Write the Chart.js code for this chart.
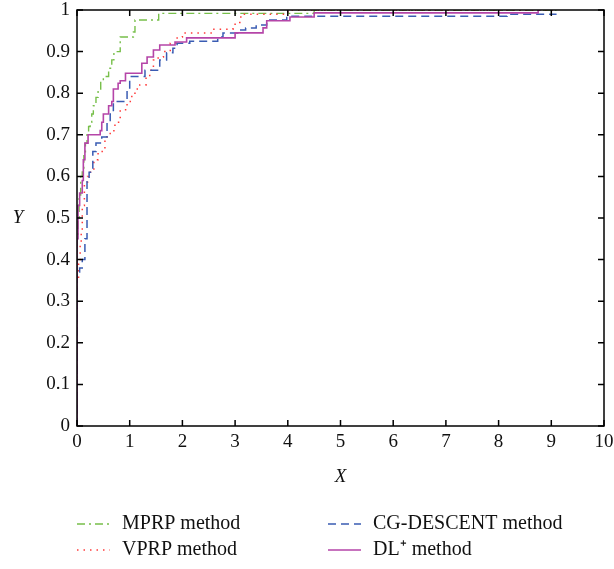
<!DOCTYPE html>
<html>
<head>
<meta charset="utf-8">
<script src="https://cdn.jsdelivr.net/npm/chart.js@4/dist/chart.umd.min.js"></script>
<style>
  html, body { margin: 0; padding: 0; background: #fff; }
  canvas { display: block; }
</style>
</head>
<body>
<canvas id="chart" width="614" height="569"></canvas>
<script>
// performance profile data
const mprpX = [0, 0, 0.02, 0.04, 0.07, 0.1, 0.13, 0.16, 0.19, 0.22, 0.25, 0.28, 0.31, 0.36, 0.4, 0.45, 0.5, 0.6, 0.66, 0.7, 0.82, 1.07, 1.1, 1.55, 4.5, 9.1];
const mprpY = [0, 0.45, 0.5, 0.55, 0.6, 0.62, 0.65, 0.68, 0.7, 0.72, 0.73, 0.75, 0.77, 0.79, 0.81, 0.83, 0.84, 0.86, 0.88, 0.9, 0.935, 0.947, 0.976, 0.992, 1.0, 1.0];

const vprpX = [0, 0, 0.03, 0.06, 0.08, 0.1, 0.14, 0.2, 0.25, 0.32, 0.4, 0.53, 0.63, 0.72, 0.82, 0.95, 1.04, 1.12, 1.19, 1.31, 1.38, 1.45, 1.54, 1.64, 1.77, 1.9, 2.0, 2.58, 2.96, 3.0, 3.09, 3.15, 4.0, 9.1];
const vprpY = [0, 0.35, 0.4, 0.44, 0.47, 0.53, 0.58, 0.6, 0.61, 0.64, 0.66, 0.695, 0.71, 0.73, 0.76, 0.78, 0.8, 0.81, 0.82, 0.84, 0.855, 0.88, 0.887, 0.9, 0.92, 0.935, 0.945, 0.954, 0.957, 0.97, 0.983, 0.99, 1.0, 1.0];

const cgX = [0, 0, 0.05, 0.1, 0.15, 0.19, 0.23, 0.3, 0.36, 0.47, 0.57, 0.63, 0.69, 0.95, 1.0, 1.29, 1.57, 1.7, 1.82, 1.9, 2.14, 2.67, 2.77, 3.05, 3.2, 3.4, 3.6, 3.98, 8.16, 9.1];
const cgY = [0, 0.37, 0.38, 0.4, 0.45, 0.59, 0.61, 0.66, 0.68, 0.695, 0.73, 0.75, 0.78, 0.81, 0.84, 0.855, 0.88, 0.897, 0.908, 0.92, 0.925, 0.935, 0.945, 0.952, 0.957, 0.964, 0.976, 0.985, 0.99, 0.99];

const dlX = [0, 0, 0.02, 0.05, 0.1, 0.12, 0.15, 0.21, 0.44, 0.47, 0.5, 0.6, 0.66, 0.69, 0.78, 0.82, 0.92, 1.23, 1.33, 1.45, 1.57, 1.86, 2.08, 3.0, 3.53, 3.6, 4.04, 4.5, 8.75, 8.8];
const dlY = [0, 0.45, 0.53, 0.56, 0.59, 0.64, 0.68, 0.7, 0.71, 0.73, 0.75, 0.77, 0.78, 0.81, 0.824, 0.83, 0.848, 0.872, 0.887, 0.904, 0.916, 0.923, 0.933, 0.945, 0.957, 0.974, 0.983, 0.993, 1.0, 1.0];

const xTicks = [0, 1, 2, 3, 4, 5, 6, 7, 8, 9, 10];
const yTicks = [0, 0.1, 0.2, 0.3, 0.4, 0.5, 0.6, 0.7, 0.8, 0.9, 1];

const FONT = 'Liberation Serif';

function toPoints(xs, ys) {
    return xs.map((x, i) => ({ x: x, y: ys[i] }));
}

const series = [
    { label: 'MPRP method', xs: mprpX, ys: mprpY, color: '#77bf4a', dash: [8, 4, 2, 4], width: 1.4, slot: [0, 0] },
    { label: 'VPRP method', xs: vprpX, ys: vprpY, color: '#ff3b3b', dash: [1.5, 5], width: 1.5, slot: [0, 1] },
    { label: 'CG-DESCENT method', xs: cgX, ys: cgY, color: '#3a5cb3', dash: [8, 5], width: 1.5, slot: [1, 0] },
    { label: 'DL\u207A method', xs: dlX, ys: dlY, color: '#b545a8', dash: [], width: 1.6, slot: [1, 1] }
];

// inward tick marks on all four sides, the box, and the upright Y label
const framePlugin = {
    id: 'frame',
    afterDatasetsDraw(chart) {
        const ctx = chart.ctx;
        const { left, right, top, bottom } = chart.chartArea;
        const xs = chart.scales.x, ys = chart.scales.y;
        const len = 6;
        ctx.save();
        ctx.strokeStyle = '#000';
        ctx.lineWidth = 1.5;
        ctx.beginPath();
        xTicks.forEach(v => {
            const px = xs.getPixelForValue(v);
            ctx.moveTo(px, bottom); ctx.lineTo(px, bottom - len);
            ctx.moveTo(px, top); ctx.lineTo(px, top + len);
        });
        yTicks.forEach(v => {
            const py = ys.getPixelForValue(v);
            ctx.moveTo(left, py); ctx.lineTo(left + len, py);
            ctx.moveTo(right, py); ctx.lineTo(right - len, py);
        });
        ctx.stroke();
        ctx.strokeRect(left, top, right - left, bottom - top);

        ctx.fillStyle = '#111';
        ctx.font = 'italic 19px "' + FONT + '"';
        ctx.textAlign = 'center';
        ctx.textBaseline = 'middle';
        ctx.fillText('Y', 18, (top + bottom) / 2);
        ctx.restore();
    }
};

// two-column legend under the axis
const legendPlugin = {
    id: 'twoColLegend',
    afterDraw(chart) {
        const ctx = chart.ctx;
        const colX = [77, 328];
        const rowY = [524, 550];
        ctx.save();
        ctx.font = '20px "' + FONT + '"';
        ctx.textBaseline = 'middle';
        ctx.fillStyle = '#111';
        chart.data.datasets.forEach((ds, i) => {
            const s = series[i];
            const x = colX[s.slot[0]], y = rowY[s.slot[1]];
            ctx.strokeStyle = ds.borderColor;
            ctx.lineWidth = ds.borderWidth;
            ctx.setLineDash(ds.borderDash);
            ctx.beginPath();
            ctx.moveTo(x, y); ctx.lineTo(x + 33, y);
            ctx.stroke();
            ctx.setLineDash([]);
            ctx.fillText(ds.label, x + 45, y);
        });
        ctx.restore();
    }
};

const ctx = document.getElementById('chart').getContext('2d');
new Chart(ctx, {
    type: 'line',
    data: {
        datasets: series.map((s, i) => ({
            label: s.label,
            data: toPoints(s.xs, s.ys),
            borderColor: s.color,
            borderDash: s.dash,
            borderWidth: s.width,
            stepped: 'before',
            pointRadius: 0,
            fill: false,
            order: 4 - i
        }))
    },
    options: {
        responsive: false,
        animation: false,
        layout: { padding: { left: 0, right: 10, top: 10, bottom: 73 } },
        scales: {
            x: {
                type: 'linear',
                min: 0, max: 10,
                afterBuildTicks: s => { s.ticks = xTicks.map(v => ({ value: v })); },
                ticks: { padding: 5, color: '#111', font: { family: FONT, size: 19 } },
                grid: { display: false, drawTicks: false },
                border: { display: false },
                title: { display: true, text: 'X', color: '#111', font: { family: FONT, size: 19, style: 'italic' }, padding: { top: 0, bottom: 8 } },
                afterFit: s => { s.height = 70; s.paddingLeft = 0; s.paddingRight = 0; }
            },
            y: {
                type: 'linear',
                min: 0, max: 1,
                afterBuildTicks: s => { s.ticks = yTicks.map(v => ({ value: v })); },
                ticks: { padding: 7, color: '#111', font: { family: FONT, size: 19 }, callback: v => String(Number(v.toFixed(1))) },
                grid: { display: false, drawTicks: false },
                border: { display: false },
                afterFit: s => { s.width = 77; s.paddingTop = 0; s.paddingBottom = 0; }
            }
        },
        plugins: {
            legend: { display: false },
            tooltip: { enabled: false }
        }
    },
    plugins: [framePlugin, legendPlugin]
});
</script>
</body>
</html>
